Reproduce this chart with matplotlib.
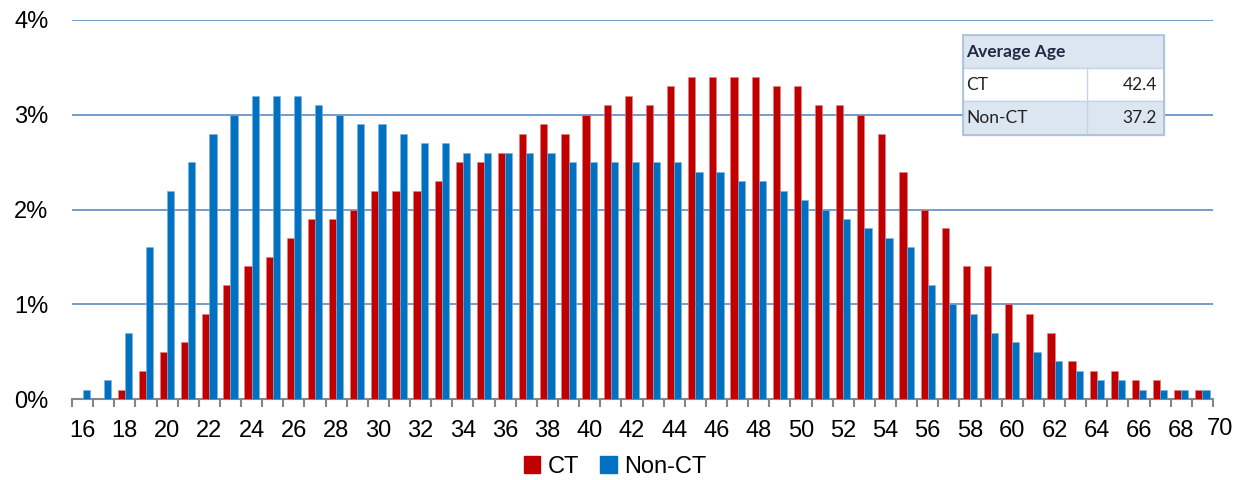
import numpy as np
import matplotlib.pyplot as plt
from matplotlib.patches import Rectangle
from matplotlib.lines import Line2D
from matplotlib.transforms import offset_copy

plt.rcParams["font.family"] = ["Liberation Sans", "DejaVu Sans"]

# share of drivers by age, in percent
ages = list(range(16, 70))
ct = [0, 0, 0.1, 0.3, 0.5, 0.6, 0.9, 1.2, 1.4, 1.5,
      1.7, 1.9, 1.9, 2.0, 2.2, 2.2, 2.2, 2.3, 2.5, 2.5,
      2.6, 2.8, 2.9, 2.8, 3.0, 3.1, 3.2, 3.1, 3.3, 3.4,
      3.4, 3.4, 3.4, 3.3, 3.3, 3.1, 3.1, 3.0, 2.8, 2.4,
      2.0, 1.8, 1.4, 1.4, 1.0, 0.9, 0.7, 0.4, 0.3, 0.3,
      0.2, 0.2, 0.1, 0.1]
non_ct = [0.1, 0.2, 0.7, 1.6, 2.2, 2.5, 2.8, 3.0, 3.2, 3.2,
          3.2, 3.1, 3.0, 2.9, 2.9, 2.8, 2.7, 2.7, 2.6, 2.6,
          2.6, 2.6, 2.6, 2.5, 2.5, 2.5, 2.5, 2.5, 2.5, 2.4,
          2.4, 2.3, 2.3, 2.2, 2.1, 2.0, 1.9, 1.8, 1.7, 1.6,
          1.2, 1.0, 0.9, 0.7, 0.6, 0.5, 0.4, 0.3, 0.2, 0.2,
          0.1, 0.1, 0.1, 0.1]
avg_labels = ["CT", "Non-CT"]
avg_ages = [42.4, 37.2]

red = "#C00000"
blue = "#0070C0"
grid_blue = "#4F81BD"

W, H = 1243, 480
fig = plt.figure(figsize=(W / 100, H / 100), dpi=100)
ax = fig.add_axes([72 / W, 1 - 399 / H, (1213 - 72) / W, (399 - 20) / H])

x = np.array(ages)
bw = 0.34
ax.bar(x - bw / 2, ct, width=bw, color=red, edgecolor="#E08080", linewidth=0.4, zorder=3, label="CT")
ax.bar(x + bw / 2, non_ct, width=bw, color=blue, edgecolor="#80B0E0", linewidth=0.4, zorder=3, label="Non-CT")

ax.set_xlim(ages[0] - 0.5, ages[-1] + 0.5)
ax.set_ylim(0, 4)
ax.set_yticks([0, 1, 2, 3, 4])
ax.set_yticklabels([f"{v}%" for v in range(5)])
ax.yaxis.grid(True, color=grid_blue, linewidth=1.1, zorder=0)
ax.tick_params(axis="y", length=0, pad=17, labelsize=17)

# labels every other age, tick marks on every category boundary
label_pad = 15
ax.set_xticks(ages[::2])
ax.set_xticklabels([str(a) for a in ages[::2]])
ax.set_xticks(np.arange(ages[0] - 0.5, ages[-1] + 1), minor=True)
ax.tick_params(axis="x", which="major", length=0, pad=label_pad, labelsize=17)
ax.tick_params(axis="x", which="minor", length=6, width=1.5, color="#868686")
end_tf = offset_copy(ax.get_xaxis_transform(), fig=fig, y=-label_pad + 1, units="points")
ax.text(ages[-1] + 0.85, 0, "70", fontsize=17, ha="center", va="top",
        transform=end_tf, clip_on=False)

for s in ["top", "right", "left"]:
    ax.spines[s].set_visible(False)
ax.spines["bottom"].set_color("#868686")
ax.spines["bottom"].set_linewidth(1.5)

# legend below the plot
handles = [Rectangle((0, 0), 1, 1, color=red), Rectangle((0, 0), 1, 1, color=blue)]
fig.legend(handles, ["CT", "Non-CT"], loc="center", bbox_to_anchor=(615 / W, 1 - 467 / H),
           ncol=2, frameon=False, fontsize=17, handlelength=0.7, handleheight=0.7,
           handletextpad=0.3, columnspacing=0.9)

# average age table
def px(xp, yp):
    return xp / W, 1 - yp / H

tbl_left, tbl_right, tbl_mid = 963, 1164, 1087
rows = [(35, 68), (68, 101), (101, 135)]
fills = ["#DCE6F1", "#FFFFFF", "#DCE6F1"]
for (top, bot), fc in zip(rows, fills):
    x0, y0 = px(tbl_left, bot)
    fig.patches.append(Rectangle((x0, y0), (tbl_right - tbl_left) / W, (bot - top) / H,
                                 transform=fig.transFigure, facecolor=fc,
                                 edgecolor="#C5D3E6", linewidth=1, zorder=5))
x0, y0 = px(tbl_mid, rows[2][1])
fig.lines.append(Line2D([x0, x0], [y0, px(0, rows[1][0])[1]], transform=fig.transFigure,
                        color="#C5D3E6", linewidth=1, zorder=6))
x0, y0 = px(tbl_left, rows[2][1])
fig.patches.append(Rectangle((x0, y0), (tbl_right - tbl_left) / W, (rows[2][1] - rows[0][0]) / H,
                             transform=fig.transFigure, facecolor="none",
                             edgecolor="#A7BFDE", linewidth=1.2, zorder=7))

tfont = ["Lato", "DejaVu Sans"]
fig.text(*px(966, 51.5), "Average Age", fontsize=12.5, fontweight="bold", color="#1F2A44",
         va="center", ha="left", family=tfont, zorder=8)
for (top, bot), lab, val in zip(rows[1:], avg_labels, avg_ages):
    yc = (top + bot) / 2
    fig.text(*px(966, yc), lab, fontsize=12.5, color="#222222", va="center", ha="left",
             family=tfont, zorder=8)
    fig.text(*px(1157, yc), f"{val:.1f}", fontsize=12.5, color="#222222", va="center",
             ha="right", family=tfont, zorder=8)

fig.savefig("out.png", dpi=100)
